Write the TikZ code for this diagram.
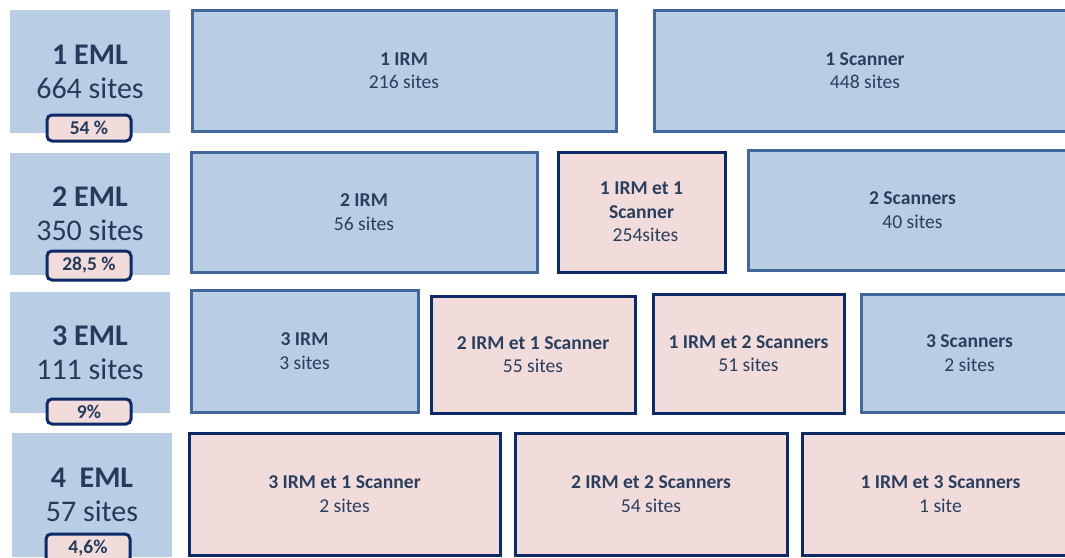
\documentclass[tikz,border=0pt]{standalone}
\usepackage{fontspec}
\setmainfont{Carlito}
\definecolor{bluefill}{HTML}{B9CDE5}
\definecolor{blueline}{HTML}{41679B}
\definecolor{pinkfill}{HTML}{F2DCDB}
\definecolor{navyline}{HTML}{0E2A66}
\definecolor{boxtext}{HTML}{2A3F5E}
\definecolor{headtext}{HTML}{243B5C}
\tikzset{
  cellbase/.style={anchor=north west, line width=3pt, inner sep=0pt, outer sep=0pt,
    align=center, text=boxtext, font=\fontsize{19.6}{23.5}\selectfont},
  bluecell/.style={cellbase, fill=bluefill, draw=blueline},
  pinkcell/.style={cellbase, fill=pinkfill, draw=navyline},
  rowhead/.style={anchor=north west, fill=bluefill, inner sep=0pt, outer sep=0pt,
    align=center, text=headtext, font=\fontsize{30}{34}\selectfont},
  badge/.style={anchor=north west, fill=pinkfill, draw=navyline, line width=3pt,
    rounded corners=5pt, inner sep=0pt, outer sep=0pt, text=headtext,
    font=\bfseries\fontsize{19.5}{22}\selectfont}
}
% \cellbox{style}{name}{x0}{y0}{x1}{y1}{text}: box given by its outer edges
\newcommand{\cellbox}[7]{%
  \node[#1, minimum width={#5pt-#3pt-3pt}, minimum height={#6pt-#4pt-3pt}]
    (#2) at (#3,#4) {#7};}
% \headbox{name}{x0}{y0}{x1}{y1}{text}
\newcommand{\headbox}[6]{%
  \node[rowhead, minimum width={#4pt-#2pt}, minimum height={#5pt-#3pt}]
    (#1) at (#2,#3) {#6};}
% \pctbadge{name}{x0}{y0}{x1}{y1}{text}
\newcommand{\pctbadge}[6]{%
  \node[badge, minimum width={#4pt-#2pt-3pt}, minimum height={#5pt-#3pt-3pt}]
    (#1) at (#2,#3) {#6};}
\begin{document}
\begin{tikzpicture}[x=1pt, y=-1pt]
\useasboundingbox (0,0) rectangle (1065,557);
\begin{scope}
\clip (0,0) rectangle (1065,557);
% row headings
\headbox{h1}{10}{10}{170}{133}{\textbf{1 EML}\\664 sites}
\headbox{h2}{10}{153}{170}{275}{\textbf{2 EML}\\350 sites}
\headbox{h3}{10}{292}{170}{413}{\textbf{3 EML}\\111 sites}
\headbox{h4}{12}{433}{172}{557}{\textbf{4~~EML}\\57 sites}
\pctbadge{p1}{47}{115}{134}{144}{54 \%}
\pctbadge{p2}{47}{251}{134}{283}{28,5 \%}
\pctbadge{p3}{47}{399}{134}{427}{9\%}
\pctbadge{p4}{46}{534}{133}{566}{4,6\%}
% one piece of equipment
\cellbox{bluecell}{irm1}{192}{10}{619}{134}{\textbf{1 IRM}\\216 sites}
\cellbox{bluecell}{sc1}{654}{10}{1079}{134}{\textbf{1 Scanner}\\448 sites}
% two pieces
\cellbox{bluecell}{irm2}{191}{152}{540}{275}{\textbf{2 IRM}\\56 sites}
\cellbox{pinkcell}{irm1sc1}{558}{152}{728}{275}{\textbf{1 IRM et 1}\\\textbf{Scanner}\\\hspace*{8pt}254sites}
\cellbox{bluecell}{sc2}{748}{150}{1080}{273}{\textbf{2 Scanners}\\40 sites}
% three pieces
\cellbox{bluecell}{irm3}{191}{290}{421}{415}{\textbf{3 IRM}\\3 sites}
\cellbox{pinkcell}{irm2sc1}{431}{296}{638}{416}{\textbf{2 IRM et 1 Scanner}\\55 sites}
\cellbox{pinkcell}{irm1sc2}{653}{294}{847}{416}{\textbf{1 IRM et 2 Scanners}\\51 sites}
\cellbox{bluecell}{sc3}{861}{294}{1081}{415}{\textbf{3 Scanners}\\2 sites}
% four pieces
\cellbox{pinkcell}{irm3sc1}{189}{433}{503}{558}{\textbf{3 IRM et 1 Scanner}\\2 sites}
\cellbox{pinkcell}{irm2sc2}{515}{433}{790}{558}{\textbf{2 IRM et 2 Scanners}\\54 sites}
\cellbox{pinkcell}{irm1sc3}{802}{433}{1082}{558}{\textbf{1 IRM et 3 Scanners}\\1 site}
\end{scope}
\end{tikzpicture}
\end{document}
